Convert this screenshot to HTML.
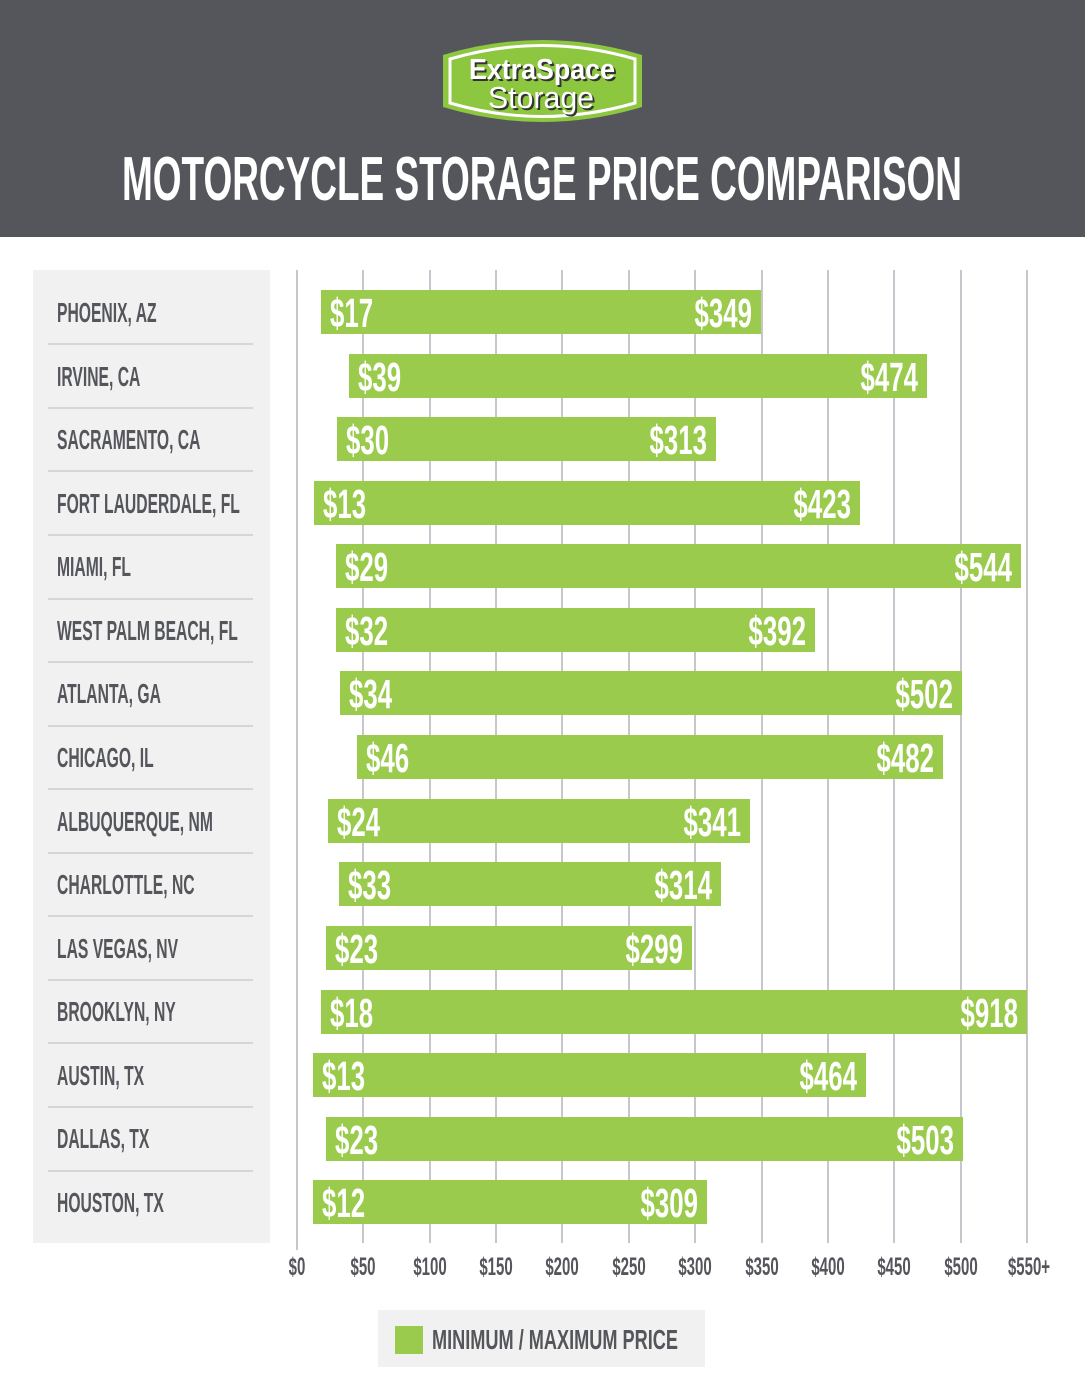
<!DOCTYPE html>
<html><head><meta charset="utf-8"><style>
html,body{margin:0;padding:0;background:#fff;}
svg{display:block;}
.c{font-family:"Liberation Sans",sans-serif;font-weight:bold;fill:#55565b;font-size:28px;}
.b{font-family:"Liberation Sans",sans-serif;font-weight:bold;fill:#fff;font-size:41px;}
.a{font-family:"Liberation Sans",sans-serif;font-weight:bold;fill:#55565b;font-size:25px;}
</style></head><body>
<svg width="1085" height="1400" viewBox="0 0 1085 1400" xmlns="http://www.w3.org/2000/svg">
<rect x="0" y="0" width="1085" height="237" fill="#55565b"/>
<!-- logo -->
<path d="M443 55 Q542 25 642 55 L642 107 Q542 137 443 107 Z" fill="#8dc63f"/>
<path d="M450 59 Q542 32 635 59 L635 103 Q542 130 450 103 Z" fill="none" stroke="#fff" stroke-width="3"/>
<text x="544" y="81" text-anchor="middle" font-family="Liberation Sans" font-weight="bold" font-size="29" fill="#333" textLength="146" lengthAdjust="spacingAndGlyphs">ExtraSpace</text>
<text x="542" y="79" text-anchor="middle" font-family="Liberation Sans" font-weight="bold" font-size="29" fill="#fff" textLength="146" lengthAdjust="spacingAndGlyphs">ExtraSpace</text>
<text x="543" y="110" text-anchor="middle" font-family="Liberation Sans" font-size="31" fill="#333" textLength="106" lengthAdjust="spacingAndGlyphs">Storage</text>
<text x="541" y="108" text-anchor="middle" font-family="Liberation Sans" font-size="31" fill="#fff" textLength="106" lengthAdjust="spacingAndGlyphs">Storage</text>
<text x="542" y="200" text-anchor="middle" font-family="Liberation Sans" font-weight="bold" font-size="62" fill="#fff" textLength="840" lengthAdjust="spacingAndGlyphs">MOTORCYCLE STORAGE PRICE COMPARISON</text>
<!-- left panel -->
<rect x="33" y="270" width="237" height="973" fill="#f1f1f1"/>
<g stroke="#d6d6d6" stroke-width="2">
<line x1="48" y1="344" x2="253" y2="344"/><line x1="48" y1="408" x2="253" y2="408"/>
<line x1="48" y1="471" x2="253" y2="471"/><line x1="48" y1="535" x2="253" y2="535"/>
<line x1="48" y1="599" x2="253" y2="599"/><line x1="48" y1="662" x2="253" y2="662"/>
<line x1="48" y1="726" x2="253" y2="726"/><line x1="48" y1="789" x2="253" y2="789"/>
<line x1="48" y1="853" x2="253" y2="853"/><line x1="48" y1="916" x2="253" y2="916"/>
<line x1="48" y1="980" x2="253" y2="980"/><line x1="48" y1="1043" x2="253" y2="1043"/>
<line x1="48" y1="1107" x2="253" y2="1107"/><line x1="48" y1="1171" x2="253" y2="1171"/>
</g>
<!-- gridlines -->
<g stroke="#c6c6cc" stroke-width="2">
<line x1="297" y1="270" x2="297" y2="1250"/><line x1="363" y1="270" x2="363" y2="1243"/>
<line x1="430" y1="270" x2="430" y2="1243"/><line x1="496" y1="270" x2="496" y2="1243"/>
<line x1="562" y1="270" x2="562" y2="1243"/><line x1="629" y1="270" x2="629" y2="1243"/>
<line x1="695" y1="270" x2="695" y2="1243"/><line x1="762" y1="270" x2="762" y2="1243"/>
<line x1="828" y1="270" x2="828" y2="1243"/><line x1="894" y1="270" x2="894" y2="1243"/>
<line x1="961" y1="270" x2="961" y2="1243"/><line x1="1027" y1="270" x2="1027" y2="1243"/>
</g>
<!-- bars -->
<g fill="#9acb4d">
<rect x="321" y="290" width="440" height="44"/>
<rect x="349" y="354" width="578" height="44"/>
<rect x="337" y="417" width="379" height="44"/>
<rect x="314" y="481" width="546" height="44"/>
<rect x="336" y="544" width="685" height="44"/>
<rect x="336" y="608" width="479" height="44"/>
<rect x="340" y="671" width="622" height="44"/>
<rect x="357" y="735" width="586" height="44"/>
<rect x="328" y="799" width="422" height="44"/>
<rect x="339" y="862" width="382" height="44"/>
<rect x="326" y="926" width="366" height="44"/>
<rect x="321" y="990" width="706" height="44"/>
<rect x="313" y="1053" width="553" height="44"/>
<rect x="326" y="1117" width="637" height="44"/>
<rect x="313" y="1180" width="394" height="44"/>
</g>
<!-- city labels -->
<g class="c">
<text transform="translate(57,322) scale(0.56,1)">PHOENIX, AZ</text>
<text transform="translate(57,386) scale(0.56,1)">IRVINE, CA</text>
<text transform="translate(57,449) scale(0.56,1)">SACRAMENTO, CA</text>
<text transform="translate(57,513) scale(0.56,1)">FORT LAUDERDALE, FL</text>
<text transform="translate(57,576) scale(0.56,1)">MIAMI, FL</text>
<text transform="translate(57,640) scale(0.56,1)">WEST PALM BEACH, FL</text>
<text transform="translate(57,703) scale(0.56,1)">ATLANTA, GA</text>
<text transform="translate(57,767) scale(0.56,1)">CHICAGO, IL</text>
<text transform="translate(57,831) scale(0.56,1)">ALBUQUERQUE, NM</text>
<text transform="translate(57,894) scale(0.56,1)">CHARLOTTLE, NC</text>
<text transform="translate(57,958) scale(0.56,1)">LAS VEGAS, NV</text>
<text transform="translate(57,1021) scale(0.56,1)">BROOKLYN, NY</text>
<text transform="translate(57,1085) scale(0.56,1)">AUSTIN, TX</text>
<text transform="translate(57,1148) scale(0.56,1)">DALLAS, TX</text>
<text transform="translate(57,1212) scale(0.56,1)">HOUSTON, TX</text>
</g>
<!-- bar labels -->
<g class="b">
<text transform="translate(330,327) scale(0.63,1)">$17</text>
<text transform="translate(752,327) scale(0.63,1)" text-anchor="end">$349</text>
<text transform="translate(358,391) scale(0.63,1)">$39</text>
<text transform="translate(918,391) scale(0.63,1)" text-anchor="end">$474</text>
<text transform="translate(346,454) scale(0.63,1)">$30</text>
<text transform="translate(707,454) scale(0.63,1)" text-anchor="end">$313</text>
<text transform="translate(323,518) scale(0.63,1)">$13</text>
<text transform="translate(851,518) scale(0.63,1)" text-anchor="end">$423</text>
<text transform="translate(345,581) scale(0.63,1)">$29</text>
<text transform="translate(1012,581) scale(0.63,1)" text-anchor="end">$544</text>
<text transform="translate(345,645) scale(0.63,1)">$32</text>
<text transform="translate(806,645) scale(0.63,1)" text-anchor="end">$392</text>
<text transform="translate(349,708) scale(0.63,1)">$34</text>
<text transform="translate(953,708) scale(0.63,1)" text-anchor="end">$502</text>
<text transform="translate(366,772) scale(0.63,1)">$46</text>
<text transform="translate(934,772) scale(0.63,1)" text-anchor="end">$482</text>
<text transform="translate(337,836) scale(0.63,1)">$24</text>
<text transform="translate(741,836) scale(0.63,1)" text-anchor="end">$341</text>
<text transform="translate(348,899) scale(0.63,1)">$33</text>
<text transform="translate(712,899) scale(0.63,1)" text-anchor="end">$314</text>
<text transform="translate(335,963) scale(0.63,1)">$23</text>
<text transform="translate(683,963) scale(0.63,1)" text-anchor="end">$299</text>
<text transform="translate(330,1027) scale(0.63,1)">$18</text>
<text transform="translate(1018,1027) scale(0.63,1)" text-anchor="end">$918</text>
<text transform="translate(322,1090) scale(0.63,1)">$13</text>
<text transform="translate(857,1090) scale(0.63,1)" text-anchor="end">$464</text>
<text transform="translate(335,1154) scale(0.63,1)">$23</text>
<text transform="translate(954,1154) scale(0.63,1)" text-anchor="end">$503</text>
<text transform="translate(322,1217) scale(0.63,1)">$12</text>
<text transform="translate(698,1217) scale(0.63,1)" text-anchor="end">$309</text>
</g>
<!-- axis labels -->
<g class="a" text-anchor="middle">
<text transform="translate(297,1275) scale(0.6,1)">$0</text>
<text transform="translate(363,1275) scale(0.6,1)">$50</text>
<text transform="translate(430,1275) scale(0.6,1)">$100</text>
<text transform="translate(496,1275) scale(0.6,1)">$150</text>
<text transform="translate(562,1275) scale(0.6,1)">$200</text>
<text transform="translate(629,1275) scale(0.6,1)">$250</text>
<text transform="translate(695,1275) scale(0.6,1)">$300</text>
<text transform="translate(762,1275) scale(0.6,1)">$350</text>
<text transform="translate(828,1275) scale(0.6,1)">$400</text>
<text transform="translate(894,1275) scale(0.6,1)">$450</text>
<text transform="translate(961,1275) scale(0.6,1)">$500</text>
<text transform="translate(1029,1275) scale(0.6,1)">$550+</text>
</g>
<!-- legend -->
<rect x="378" y="1310" width="327" height="57" fill="#f1f1f1"/>
<rect x="395" y="1326" width="28" height="28" fill="#9acb4d"/>
<text x="432" y="1349" class="c" font-size="28" textLength="246" lengthAdjust="spacingAndGlyphs">MINIMUM / MAXIMUM PRICE</text>
</svg>
</body></html>
